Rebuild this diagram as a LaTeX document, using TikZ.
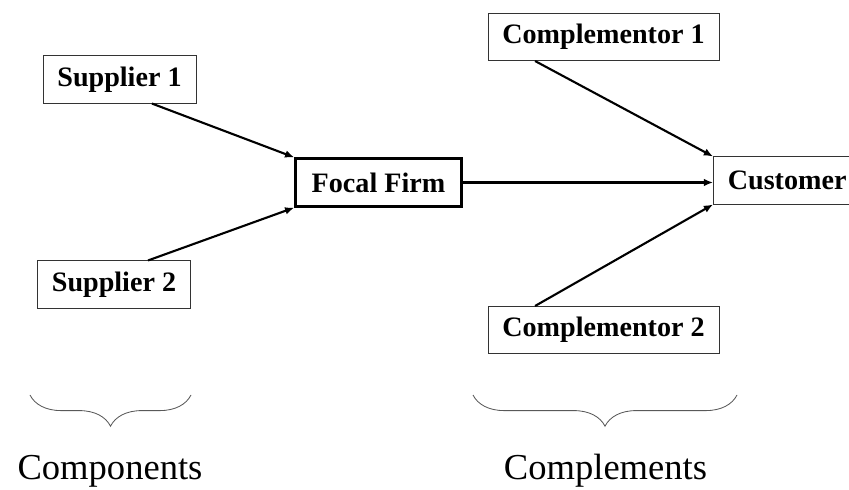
\documentclass[tikz,border=0pt]{standalone}
\usepackage{fontspec}
\setmainfont{Liberation Serif}
\usetikzlibrary{arrows.meta,decorations.pathreplacing}

\begin{document}
\begin{tikzpicture}[>={Latex[length=6.5pt,width=5.5pt]},x=0.025cm,y=-0.025cm,
   box/.style={draw=black!80,line width=0.6pt,inner xsep=0.36cm,minimum height=1.18cm,
      font=\fontsize{20}{24}\selectfont\bfseries},
   link/.style={->,line width=1.5pt},
   group/.style={decorate,decoration={brace,amplitude=0.78cm},draw=black!65,line width=0.6pt},
   caption/.style={anchor=base,font=\fontsize{26}{30}\selectfont}]
   \useasboundingbox (0,0) rectangle (849,490);

   \node[box] (s1) at (119.5,79.5) {Supplier 1};
   \node[box] (s2) at (114,284.5) {Supplier 2};
   \node[box,draw=black,line width=2.2pt,inner xsep=0.4cm] (ff) at (378.5,182.5) {Focal Firm};
   \node[box] (c1) at (603.5,37) {Complementor 1};
   \node[box] (c2) at (603.5,330) {Complementor 2};
   \node[box,anchor=west] (cu) at (713,180.5) {Customer};
   \node[caption] (comps) at (110,480) {Components};
   \node[caption] (compl) at (605.5,480) {Complements};

   \draw [link] ([xshift=0.81cm]s1.south) -- (ff.north west) ;
   \draw [link] ([xshift=0.85cm]s2.north) -- (ff.south west) ;
   \draw [link] (ff.east) -- (ff.east -| cu.west) ;
   \draw [link] ([xshift=-1.71cm]c1.south) -- (cu.north west) ;
   \draw [link] ([xshift=-1.71cm]c2.north) -- (cu.south west) ;

   \draw [group] (191,395) -- (30,395) ;
   \draw [group] (737,395) -- (473,395) ;
\end{tikzpicture}
\end{document}
